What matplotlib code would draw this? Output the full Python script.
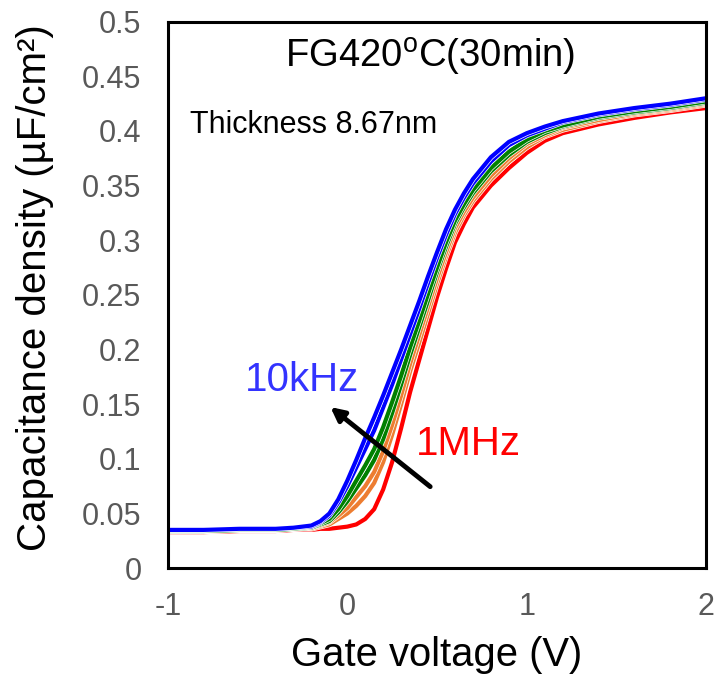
import matplotlib
matplotlib.use("Agg")
import matplotlib.pyplot as plt
import matplotlib.patheffects as pe

plt.rcParams.update({"font.family": ["Liberation Sans", "DejaVu Sans"],
                     "axes.unicode_minus": False})

# gate voltage sweep (V)
voltage = [-1.0, -0.8, -0.6, -0.4, -0.3, -0.2, -0.15, -0.1, -0.05, 0.0, 0.05, 0.1,
           0.15, 0.2, 0.25, 0.3, 0.35, 0.4, 0.45, 0.5, 0.55, 0.6, 0.65, 0.7,
           0.8, 0.9, 1.0, 1.1, 1.2, 1.4, 1.6, 1.8, 2.0]

# capacitance density (uF/cm2), low to high frequency
c_10k = [0.035, 0.035, 0.036, 0.036, 0.037, 0.039, 0.043, 0.050, 0.063, 0.080, 0.099, 0.119,
         0.138, 0.158, 0.179, 0.200, 0.222, 0.244, 0.267, 0.289, 0.310, 0.328, 0.343, 0.356,
         0.376, 0.390, 0.398, 0.404, 0.409, 0.416, 0.421, 0.425, 0.430]
c_20k = [0.035, 0.035, 0.036, 0.036, 0.037, 0.038, 0.042, 0.048, 0.060, 0.075, 0.092, 0.109,
         0.126, 0.147, 0.168, 0.191, 0.214, 0.237, 0.261, 0.284, 0.305, 0.324, 0.339, 0.352,
         0.372, 0.387, 0.396, 0.402, 0.408, 0.415, 0.420, 0.424, 0.429]
c_50k = [0.034, 0.034, 0.035, 0.035, 0.036, 0.038, 0.041, 0.045, 0.054, 0.066, 0.080, 0.094,
         0.109, 0.129, 0.152, 0.176, 0.202, 0.226, 0.251, 0.275, 0.298, 0.318, 0.333, 0.346,
         0.366, 0.381, 0.392, 0.400, 0.405, 0.413, 0.418, 0.422, 0.427]
c_100k = [0.034, 0.034, 0.035, 0.035, 0.036, 0.037, 0.040, 0.043, 0.051, 0.061, 0.073, 0.085,
          0.099, 0.118, 0.142, 0.168, 0.195, 0.220, 0.245, 0.271, 0.294, 0.315, 0.330, 0.343,
          0.363, 0.378, 0.390, 0.398, 0.404, 0.412, 0.417, 0.421, 0.426]
c_200k = [0.034, 0.034, 0.035, 0.035, 0.036, 0.037, 0.039, 0.042, 0.048, 0.055, 0.065, 0.075,
          0.088, 0.107, 0.131, 0.158, 0.187, 0.213, 0.239, 0.265, 0.289, 0.311, 0.326, 0.339,
          0.359, 0.375, 0.388, 0.396, 0.403, 0.410, 0.416, 0.420, 0.425]
c_500k = [0.034, 0.034, 0.035, 0.035, 0.036, 0.036, 0.038, 0.040, 0.045, 0.050, 0.057, 0.066,
          0.078, 0.097, 0.122, 0.150, 0.180, 0.206, 0.233, 0.260, 0.285, 0.307, 0.323, 0.336,
          0.356, 0.372, 0.385, 0.395, 0.401, 0.409, 0.415, 0.419, 0.424]
c_1M = [0.033, 0.033, 0.034, 0.034, 0.035, 0.035, 0.036, 0.036, 0.037, 0.038, 0.040, 0.045,
        0.054, 0.072, 0.097, 0.128, 0.161, 0.190, 0.219, 0.248, 0.274, 0.298, 0.315, 0.330,
        0.350, 0.366, 0.380, 0.391, 0.398, 0.406, 0.412, 0.417, 0.421]

curves = [c_10k, c_20k, c_50k, c_100k, c_200k, c_500k, c_1M]
colors = ["#0000FF", "#0000FF", "#008000", "#008000", "#ED7D31", "#ED7D31", "#FF0000"]

fig = plt.figure(figsize=(7.17, 6.78), dpi=100)
ax = fig.add_axes([0.234, 0.162, 0.751, 0.806])

# high frequency first so the low-frequency curves sit on top
for c, col in reversed(list(zip(curves, colors))):
    ax.plot(voltage, c, color=col, lw=3.0, solid_capstyle="round", solid_joinstyle="round",
            path_effects=[pe.Stroke(linewidth=4.0, foreground="white"), pe.Normal()])

ax.set_xlim(-1, 2)
ax.set_ylim(0, 0.5)
ax.set_xticks([-1, 0, 1, 2])
ax.set_xticklabels(["-1", "0", "1", "2"])
ax.set_yticks([0, 0.05, 0.1, 0.15, 0.2, 0.25, 0.3, 0.35, 0.4, 0.45, 0.5])
ax.set_yticklabels(["0", "0.05", "0.1", "0.15", "0.2", "0.25", "0.3", "0.35", "0.4", "0.45", "0.5"])
ax.tick_params(length=0, labelsize=22, labelcolor="#595959")
ax.tick_params(axis="y", pad=19)
ax.tick_params(axis="x", pad=17)
for s in ax.spines.values():
    s.set_linewidth(2.2)
    s.set_color("black")

ax.set_xlabel("Gate voltage (V)", fontsize=28.8, labelpad=10)
ax.set_ylabel("Capacitance density (\u00b5F/cm\u00b2)", fontsize=29, labelpad=20)
ax.yaxis.label.set_y(0.513)

ax.text(0.487, 0.936, "FG420$^{\\mathregular{o}}$C(30min)", transform=ax.transAxes,
        ha="center", va="center", fontsize=27.5)
ax.text(0.041, 0.811, "Thickness 8.67nm", transform=ax.transAxes,
        ha="left", va="center", fontsize=22)
ax.text(-0.25, 0.172, "10kHz", color="#3333FF", ha="center", va="center", fontsize=29)
ax.text(0.675, 0.114, "1MHz", color="#FF0000", ha="center", va="center", fontsize=29)
ax.annotate("", xy=(-0.106, 0.149), xytext=(0.474, 0.073),
            arrowprops=dict(arrowstyle="-|>,head_length=0.8,head_width=0.4",
                            color="black", lw=3.5))

fig.savefig("out.png", dpi=100)
